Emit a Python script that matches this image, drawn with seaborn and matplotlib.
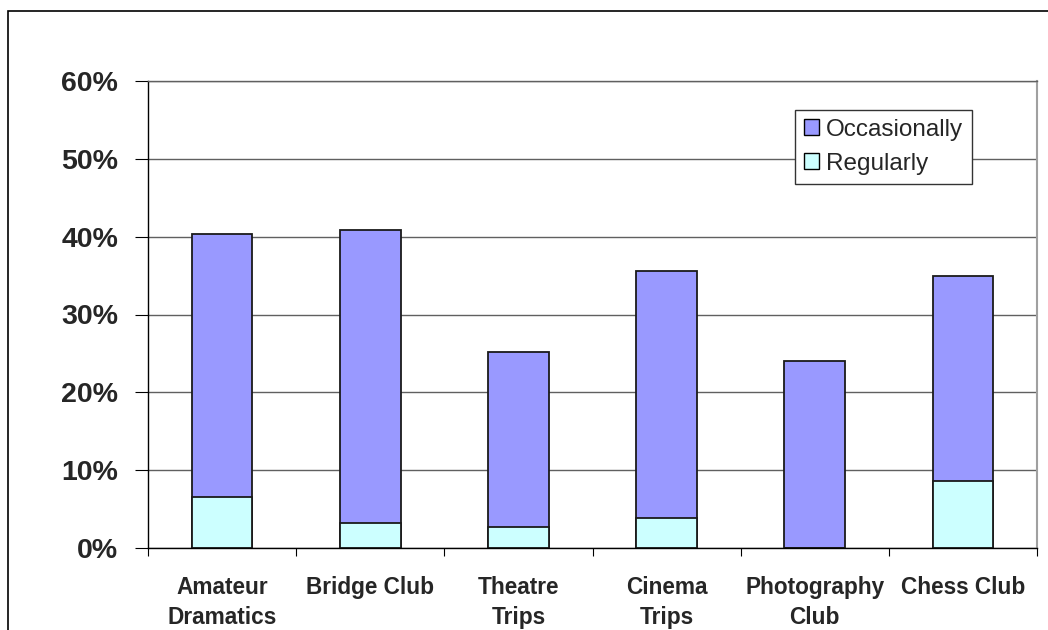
import matplotlib
matplotlib.use("Agg")
import matplotlib.pyplot as plt
import seaborn as sns
import numpy as np
import pandas as pd
from matplotlib.patches import Patch, Rectangle
from matplotlib.ticker import FuncFormatter, FixedLocator

categories = ["Amateur\nDramatics", "Bridge Club", "Theatre\nTrips", "Cinema\nTrips",
              "Photography\nClub", "Chess Club"]
regularly = [6.5, 3.2, 2.7, 3.9, 0.0, 8.6]
occasionally = [33.9, 37.6, 22.5, 31.7, 24.0, 26.3]
series_names = ["Occasionally", "Regularly"]
y_ticks = [0, 10, 20, 30, 40, 50, 60]

col_occ = "#9999FF"
col_reg = "#CCFFFF"

sns.set_theme(style="white")
plt.rcParams["font.family"] = ["Liberation Sans", "DejaVu Sans"]

df = pd.DataFrame({"cat": categories, "reg": regularly, "occ": occasionally})
df["total"] = df["reg"] + df["occ"]

fig = plt.figure(figsize=(10.48, 6.30), dpi=100)
fig.patch.set_facecolor("white")
ax = fig.add_axes([148/1048, 1-548/630, (1037-148)/1048, (548-81)/630])

sns.barplot(data=df, x="cat", y="total", color=col_occ, saturation=1, width=0.41,
            edgecolor="#1a1a1a", linewidth=1.3, ax=ax)
sns.barplot(data=df, x="cat", y="reg", color=col_reg, saturation=1, width=0.41,
            edgecolor="#1a1a1a", linewidth=1.3, ax=ax)

ax.set_xlim(-0.5, len(categories) - 0.5)
ax.set_ylim(0, 60)
ax.set_xlabel("")
ax.set_ylabel("")

ax.yaxis.set_major_locator(FixedLocator(y_ticks))
ax.yaxis.set_major_formatter(FuncFormatter(lambda v, p: f"{int(v)}%"))
ax.grid(axis="y", color="#606060", linewidth=1.0)
ax.set_axisbelow(True)

ax.tick_params(axis="y", which="major", direction="out", length=9.5, width=0.8,
               color="black", pad=12, labelsize=20.5, left=True)
for lab in ax.get_yticklabels():
    lab.set_fontweight("bold")

ax.set_xticks(range(len(categories)))
ax.set_xticklabels(categories, fontsize=16.3, fontweight="bold", linespacing=1.42)
ax.tick_params(axis="x", which="major", length=0, pad=20)
ax.set_xticks(np.arange(-0.5, len(categories), 1.0), minor=True)
ax.tick_params(axis="x", which="minor", direction="out", length=6, width=0.8,
               color="black", bottom=True)

for side in ["left", "bottom"]:
    ax.spines[side].set_color("black")
    ax.spines[side].set_linewidth(1.0)
ax.spines["top"].set_color("#606060")
ax.spines["top"].set_linewidth(1.0)
ax.spines["right"].set_color("#a0a0a0")
ax.spines["right"].set_linewidth(1.5)

handles = [Patch(facecolor=col_occ, edgecolor="black", linewidth=1.0, label=series_names[0]),
           Patch(facecolor=col_reg, edgecolor="black", linewidth=1.0, label=series_names[1])]
leg = ax.legend(handles=handles, loc="upper left",
                bbox_to_anchor=(795/1048, 1-110/630), bbox_transform=fig.transFigure,
                borderaxespad=0, frameon=True, fancybox=False, shadow=False,
                fontsize=17.5, handlelength=0.62, handleheight=0.62, handletextpad=0.3,
                borderpad=0.36, labelspacing=0.5, framealpha=1)
leg.get_frame().set_edgecolor("#333333")
leg.get_frame().set_linewidth(1.0)

fig.patches.append(Rectangle((8/1048, -0.2), 1.5, (1-11/630) + 0.2, transform=fig.transFigure,
                             fill=False, edgecolor="black", linewidth=1.2, zorder=10))

fig.savefig("out.png", dpi=100, facecolor="white")
